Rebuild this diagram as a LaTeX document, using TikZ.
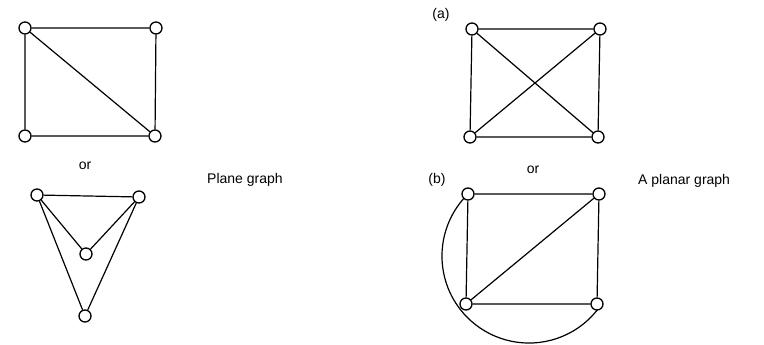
\documentclass[tikz,border=0pt]{standalone}
\usepackage{fontspec}
\setmainfont{Liberation Sans}
\usetikzlibrary{backgrounds}
\begin{document}
\begin{tikzpicture}[x=1pt,y=-1pt,
  v/.style={circle,draw,fill=white,line width=1.3pt,minimum size=12pt,inner sep=0pt},
  edge/.style={line width=1.2pt},
  lbl/.style={font=\fontsize{14}{16}\selectfont,inner sep=0pt}]
\useasboundingbox (0,0) rectangle (764,345);
% left top graph
\node[v] (a1) at (25,28) {};
\node[v] (a2) at (156,28) {};
\node[v] (a3) at (25,136) {};
\node[v] (a4) at (155,136) {};
\draw[edge] (a1) -- (a2) (a2) -- (a4) (a4) -- (a3) (a3) -- (a1) (a1) -- (a4);
\node[lbl] (or1) at (85,166) {or};
% left bottom graph
\node[v] (b1) at (37,195) {};
\node[v] (b2) at (139,197) {};
\node[v] (b3) at (86,254) {};
\node[v] (b4) at (85,316) {};
\draw[edge] (b1) -- (b2) (b1) -- (b3) (b2) -- (b3) (b1) -- (b4) (b2) -- (b4);
\node[lbl,anchor=west] (pg) at (207,180) {Plane graph};
% right top graph
\node[lbl] (la) at (441,15) {(a)};
\node[v] (c1) at (472,29) {};
\node[v] (c2) at (600,29) {};
\node[v] (c3) at (470,137) {};
\node[v] (c4) at (598,137) {};
\draw[edge] (c1) -- (c2) (c2) -- (c4) (c4) -- (c3) (c3) -- (c1) (c1) -- (c4) (c2) -- (c3);
\node[lbl] (or2) at (533,170) {or};
% right bottom graph
\node[lbl] (lb) at (437,180) {(b)};
\node[v] (d1) at (468,194) {};
\node[v] (d2) at (599,194) {};
\node[v] (d3) at (466,304) {};
\node[v] (d4) at (597,304) {};
\draw[edge] (d1) -- (d2) (d2) -- (d4) (d4) -- (d3) (d3) -- (d1) (d3) -- (d2);
\begin{scope}[on background layer]
\draw[edge] (d1.center) arc[start angle=225.5, end angle=35.5, radius=87];
\end{scope}
\node[lbl,anchor=west] (pl) at (638,181) {A planar graph};
\end{tikzpicture}
\end{document}
